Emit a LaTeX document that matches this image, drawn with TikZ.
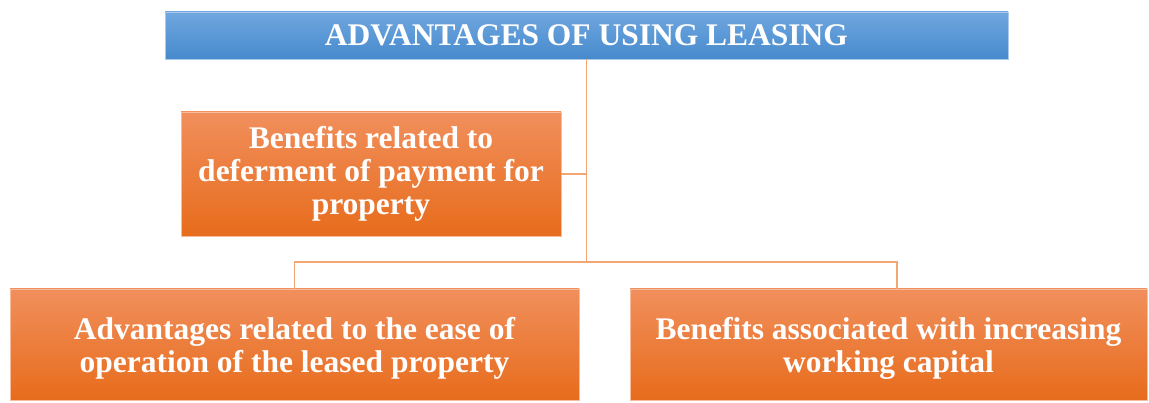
\documentclass[tikz,border=0pt]{standalone}
\usepackage{fontspec}
\setmainfont{Liberation Serif}
\usepackage{tikz}
\usetikzlibrary{positioning}
\definecolor{bluetop}{RGB}{112,167,223}
\definecolor{bluebot}{RGB}{70,138,205}
\definecolor{orgtop}{RGB}{241,143,92}
\definecolor{orgbot}{RGB}{231,108,28}
\definecolor{linkcol}{RGB}{243,165,115}

\begin{document}
\begin{tikzpicture}[x=1pt, y=-1pt,
    headbox/.style={rectangle, draw=bluetop!60!white, top color=bluetop, bottom color=bluebot,
        text=white, font=\fontsize{31.5}{32}\selectfont\bfseries, inner sep=0pt},
    itembox/.style={rectangle, draw=orgtop!60!white, top color=orgtop, bottom color=orgbot,
        text=white, align=center, font=\fontsize{31.5}{33}\selectfont\bfseries, inner sep=0pt},
    link/.style={draw=linkcol, line width=1.8pt}]
    \useasboundingbox (0,0) rectangle (1149,403);

    \node[headbox, minimum width=843, minimum height=47] (title) at (586.5,35.5) {ADVANTAGES OF USING LEASING};
    \node[itembox, minimum width=380, minimum height=124] (defer) at (371,174)
        {Benefits related to\\deferment of payment for\\property};
    \node[itembox, minimum width=569, minimum height=111, text depth=-4pt] (ease) at (294.5,344.5)
        {Advantages related to the ease of\\operation of the leased property};
    \node[itembox, minimum width=517, minimum height=111, text depth=-4pt] (capital) at (888.5,344.5)
        {Benefits associated with increasing\\working capital};
    \coordinate (hub) at (586.5,262);

    \draw[link] (title.south) |- (defer.east);
    \draw[link] (title.south) -- (hub);
    \draw[link] (ease.north) |- (hub) -| ([xshift=8.5pt]capital.north);
\end{tikzpicture}
\end{document}
